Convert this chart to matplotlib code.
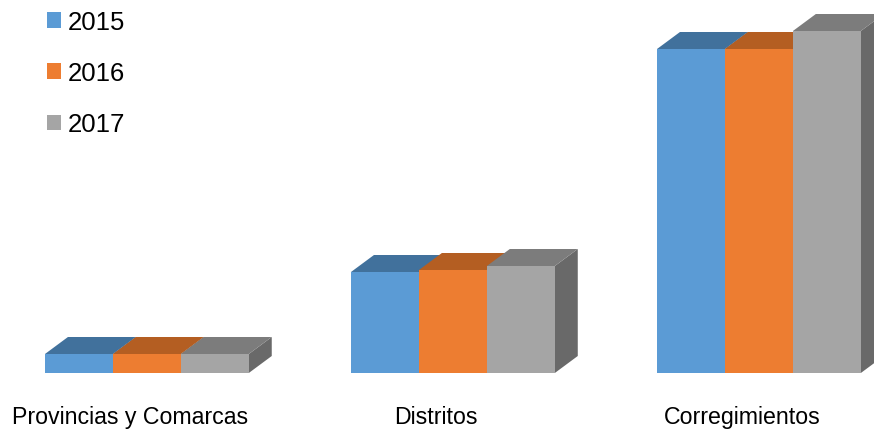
import matplotlib
matplotlib.use("Agg")
import matplotlib.pyplot as plt
from matplotlib.patches import Polygon, Patch
import numpy as np

plt.rcParams['font.family'] = ['Liberation Sans', 'DejaVu Sans']

# datos
categorias = ["Provincias y Comarcas", "Distritos", "Corregimientos"]
anios = ["2015", "2016", "2017"]
v2015 = [19, 101, 324]
v2016 = [19, 103, 324]
v2017 = [19, 107, 342]

frente = ["#5B9BD5", "#ED7D31", "#A5A5A5"]
arriba = ["#41719C", "#B45E22", "#7C7C7C"]
lado = ["#3A6690", "#A35420", "#696969"]

fig = plt.figure(figsize=(8.74, 4.31), dpi=100)
ax = fig.add_axes([0, 0, 1, 1])
ax.set_xlim(-0.480, 2.376)
ax.set_ylim(-57, 374)
ax.axis("off")

w = 0.222      # ancho de cada barra
dx = 0.075     # profundidad en x
dy = 17        # profundidad en y

series = [v2015, v2016, v2017]
x = np.arange(len(categorias))
z = 2
for i in range(len(categorias)):
    for k, vals in enumerate(series):
        x0 = x[i] - 1.5 * w + k * w
        v = vals[i]
        # cara lateral
        ax.add_patch(Polygon([(x0 + w, 0), (x0 + w + dx, dy), (x0 + w + dx, v + dy), (x0 + w, v)],
                             closed=True, facecolor=lado[k], edgecolor="none", zorder=z))
        # cara superior
        ax.add_patch(Polygon([(x0, v), (x0 + w, v), (x0 + w + dx, v + dy), (x0 + dx, v + dy)],
                             closed=True, facecolor=arriba[k], edgecolor="none", zorder=z))
        # frente
        ax.bar(x0, v, width=w, align="edge", color=frente[k], edgecolor="none", zorder=z + 1)
        z += 2

for i, c in enumerate(categorias):
    ax.text(x[i] - 0.056, -44, c, ha="center", va="center", fontsize=16.7, color="#000000")

handles = [Patch(facecolor=frente[k], edgecolor="none") for k in range(3)]
leg = fig.legend(handles, anios, loc="upper left", bbox_to_anchor=(47 / 874, 1 - 11 / 431),
                 frameon=False, fontsize=18.5, handlelength=0.56, handleheight=0.56,
                 handletextpad=0.25, labelspacing=1.06, borderpad=0, borderaxespad=0)

fig.savefig("out.png", dpi=100)
